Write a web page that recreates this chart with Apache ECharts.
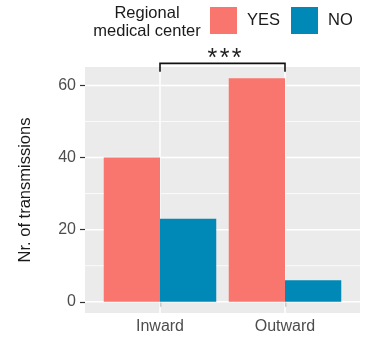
<!DOCTYPE html>
<html>
<head>
<meta charset="utf-8">
<script src="https://cdn.jsdelivr.net/npm/echarts@6/dist/echarts.min.js"></script>
<style>
  html, body { margin: 0; padding: 0; background: #fff; }
  #chart { width: 365px; height: 341px; }
</style>
</head>
<body>
<div id="chart"></div>
<script>
// Transmissions by direction, split by regional medical center status
const categories = ['Inward', 'Outward'];
const categoryPos = [1, 2];
const yesValues = [40, 62];
const noValues = [23, 6];
const yTicks = [0, 20, 40, 60];
const yMinorTicks = [10, 30, 50];
const legendNames = ['YES', 'NO'];
const significance = '***';

const FONT = '"Liberation Sans", Arial, sans-serif';
const X_MIN = 0.4, X_MAX = 2.6;
const Y_MIN = -3.1, Y_MAX = 65.1;
const BRACKET_TOP = 66.1, BRACKET_TIP = 63.8, STAR_Y = 63.8;

// panel gridlines: [kind, value] with kind 0 = major horizontal, 1 = minor horizontal, 2 = vertical
const gridData = []
  .concat(yTicks.map(v => [0, v]))
  .concat(yMinorTicks.map(v => [1, v]))
  .concat(categoryPos.map(v => [2, v]));

const chart = echarts.init(document.getElementById('chart'), null, { renderer: 'canvas' });

chart.setOption({
  animation: false,
  textStyle: { fontFamily: FONT },
  grid: {
    left: 85, right: 5, top: 67, bottom: 28,
    show: true, backgroundColor: '#EBEBEB', borderWidth: 0
  },
  graphic: [{
    type: 'text', x: 147, y: 4.5, silent: true,
    style: {
      text: 'Regional\nmedical center', fontFamily: FONT, fontSize: 16.5,
      lineHeight: 18, fill: '#1a1a1a', textAlign: 'center'
    }
  }],
  legend: {
    data: legendNames, left: 210, top: 7, padding: 0,
    itemWidth: 27, itemHeight: 27, itemGap: 11,
    icon: 'rect',
    textStyle: { fontFamily: FONT, fontSize: 16.5, color: '#1a1a1a', padding: [0, 0, 0, 5] }
  },
  xAxis: {
    type: 'value', min: X_MIN, max: X_MAX,
    axisLine: { show: false },
    splitLine: { show: false },
    axisTick: { show: true, customValues: categoryPos, length: 5, lineStyle: { color: '#333', width: 1.2 } },
    axisLabel: {
      customValues: categoryPos, margin: 6, fontSize: 16, color: '#4D4D4D', fontFamily: FONT,
      formatter: v => categories[categoryPos.indexOf(v)]
    }
  },
  yAxis: {
    type: 'value', min: Y_MIN, max: Y_MAX,
    axisLine: { show: false },
    splitLine: { show: false },
    axisTick: { show: true, customValues: yTicks, length: 5, lineStyle: { color: '#333', width: 1.2 } },
    axisLabel: { customValues: yTicks, margin: 9, fontSize: 16, color: '#4D4D4D', fontFamily: FONT },
    name: 'Nr. of transmissions', nameLocation: 'middle', nameRotate: 90, nameGap: 51,
    nameTextStyle: { fontSize: 16.5, color: '#1a1a1a', fontFamily: FONT }
  },
  series: [
    {
      type: 'custom', silent: true, z: 1, data: gridData,
      renderItem: function (params, api) {
        const kind = api.value(0), v = api.value(1);
        let p1, p2;
        if (kind === 2) {
          p1 = api.coord([v, Y_MIN]); p2 = api.coord([v, Y_MAX]);
        } else {
          p1 = api.coord([X_MIN, v]); p2 = api.coord([X_MAX, v]);
        }
        return {
          type: 'line',
          shape: { x1: p1[0], y1: p1[1], x2: p2[0], y2: p2[1] },
          style: { stroke: '#fff', lineWidth: kind === 1 ? 0.8 : 1.5 }
        };
      }
    },
    {
      name: 'YES', type: 'bar', z: 2,
      data: categoryPos.map((x, i) => [x, yesValues[i]]),
      barWidth: '45%', barGap: '0%',
      itemStyle: { color: '#F8766D' }
    },
    {
      name: 'NO', type: 'bar', z: 2,
      data: categoryPos.map((x, i) => [x, noValues[i]]),
      barWidth: '45%', barGap: '0%',
      itemStyle: { color: '#0088B6' }
    },
    {
      type: 'custom', silent: true, z: 3, clip: false,
      data: [[categoryPos[0], categoryPos[1]]],
      renderItem: function (params, api) {
        const a = api.value(0), b = api.value(1);
        const l0 = api.coord([a, BRACKET_TIP]), l1 = api.coord([a, BRACKET_TOP]);
        const r1 = api.coord([b, BRACKET_TOP]), r0 = api.coord([b, BRACKET_TIP]);
        const t = api.coord([(a + b) / 2, STAR_Y]);
        const stars = significance.split('').map(s => '{s|' + s + '}').join('');
        return {
          type: 'group',
          children: [
            {
              type: 'polyline',
              shape: { points: [l0, l1, r1, r0] },
              style: { stroke: '#111', lineWidth: 1.6, fill: null }
            },
            {
              type: 'text', x: t[0] + 2, y: t[1],
              style: {
                text: stars, fontFamily: FONT, fontSize: 25, fill: '#222',
                textAlign: 'center', textVerticalAlign: 'bottom',
                rich: { s: { fontFamily: FONT, fontSize: 25, fill: '#222', padding: [0, 1.2] } }
              }
            }
          ]
        };
      }
    }
  ]
});
</script>
</body>
</html>
